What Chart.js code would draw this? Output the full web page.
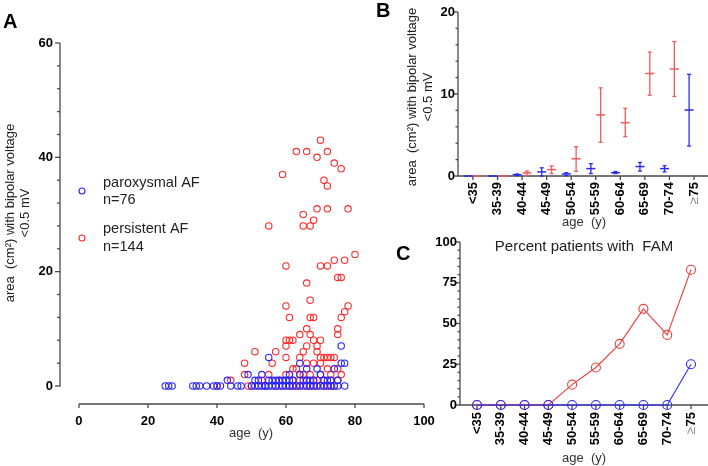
<!DOCTYPE html>
<html><head><meta charset="utf-8">
<script src="https://cdn.jsdelivr.net/npm/chart.js@4/dist/chart.umd.min.js"></script>
<style>
html,body{margin:0;padding:0;background:#fff;}
#wrap{position:relative;width:708px;height:466px;overflow:hidden;}
canvas{position:absolute;left:0;top:0;}
</style></head><body>
<div id="wrap">
<canvas id="cA" width="708" height="466"></canvas>
<canvas id="cB" width="708" height="466"></canvas>
<canvas id="cC" width="708" height="466"></canvas>
</div>
<script>
// ---------- DATA ----------
// Panel A: paroxysmal AF (age, area)
const parAge  = [25,26,27,33,34,35,37,39,40,41,44,46,47,50,51,52,53,54,55,56,57,58,59,60,61,62,63,64,65,66,67,68,69,70,71,72,73,74,75,77,
                 43,49,51,53,55,55,56,57,59,61,61,60,64,66,65,66,67,69,70,71,72,73,74,76,76,77,75,52,58,62,64,68,54];
const parArea = [0,0,0,0,0,0,0,0,0,0,0,0,0,0,0,0,0,0,0,0,0,0,0,0,0,0,0,0,0,0,0,0,0,0,0,0,0,0,0,0,
                 1,2,1,2,5,1,1,1,1,2,1,1,4,3,1,1,1,3,2,1,1,1,3,7,4,4,1,1,1,1,2,1,0];
// Panel A: persistent AF (age, area)
const perAge  = [70,63,66,72,69,74,76,59,71,72,69,72,78,65,68,55,65,67,80,74,77,60,70,72,75,76,66,67,60,78,77,61,67,68,76,66,75,64,67,75,
                 60,61,62,68,70,60,66,69,51,57,65,69,60,64,70,71,72,73,74,48,56,70,63,72,48,55,60,65,67,76,44,69,75,
                 53,58,62,64,66,68,71,73,40,49,50,52,54,57,59,61,62,63,64,66,67,68,69,71,72,73,74,62,66,68,73,75,64,70];
const perArea = [43,41,41,41,40,39,38,37,36,35,31,31,31,30,29,28,28,28,23,22,22,21,21,21,19,19,18,15,14,14,13,12,12,12,12,10,10,9,9,9,
                 8,8,8,8,8,7,7,7,6,6,6,6,5,5,5,5,5,5,5,4,4,4,3,3,2,2,2,2,2,2,1,1,1,
                 1,1,1,1,1,1,1,1,0,0,0,0,0,0,0,0,0,0,0,0,0,0,0,0,0,0,0,3,4,4,2,3,2,2];

// Panels B and C: age groups
const ageGroups = ['<35','35-39','40-44','45-49','50-54','55-59','60-64','65-69','70-74','\u226575'];
// Panel B: mean area and error bar limits
const parMeanB = [0,0,0.15,0.5,0.25,0.9,0.4,1.15,0.9,8.05];
const parLowB  = [0,0,0.05,0,0.05,0.3,0.3,0.6,0.5,3.65];
const parHighB = [0,0,0.25,1.0,0.4,1.5,0.55,1.65,1.25,12.4];
const perMeanB = [0,0,0.37,0.78,2.1,7.45,6.5,12.5,13.05,null];
const perLowB  = [0,0,0.05,0.3,0.57,4.1,4.8,9.85,9.7,null];
const perHighB = [0,0,0.6,1.23,3.57,10.75,8.25,15.1,16.4,null];
// Panel C: percent patients with FAM
const parPctC = [0,0,0,0,0,0,0,0,0,25];
const perPctC = [0,0,0,0,12.5,23,37.5,59,43,83];

// ---------- STYLE ----------
const FONT = '"Liberation Sans", Arial, Helvetica, sans-serif';
const AXC = '#4a4a4a';
const BLUE = '#2626ff', RED = '#ff2a2a';
const BLUE_B = '#2a2af0', RED_B = '#f05a5a';
const BLUE_C = '#2a2aff', RED_C = '#f03c3c';

function txt(ctx, s, x, y, font, color, align, base, rot) {
  ctx.save();
  ctx.font = font; ctx.fillStyle = color || '#000';
  ctx.textAlign = align || 'center'; ctx.textBaseline = base || 'middle';
  ctx.translate(x, y); if (rot) ctx.rotate(rot);
  ctx.fillText(s, 0, 0);
  ctx.restore();
}
function seg(ctx, x1, y1, x2, y2) { ctx.beginPath(); ctx.moveTo(x1, y1); ctx.lineTo(x2, y2); ctx.stroke(); }

function yAxis(chart, o) {
  const {ctx, scales: {x, y}} = chart;
  const ax = x.getPixelForValue(o.at);
  ctx.save(); ctx.strokeStyle = AXC; ctx.lineWidth = 1.3;
  seg(ctx, ax, y.getPixelForValue(o.max), ax, y.getPixelForValue(o.min) + 0.5);
  const n = Math.round((o.max - o.min) / o.minor);
  for (let i = 0; i <= n; i++) {
    const v = o.min + i * o.minor, p = y.getPixelForValue(v);
    const major = Math.abs(v / o.major - Math.round(v / o.major)) < 1e-6;
    seg(ctx, ax - (major ? o.tl : o.tm), p, ax, p);
    if (major) txt(ctx, String(v), ax - o.gap, p, 'bold 13px ' + FONT, '#000', 'right', 'middle');
  }
  ctx.restore();
}

function catXAxis(chart, o) {
  const {ctx, chartArea: ca, scales: {x, y}} = chart;
  const ay = y.getPixelForValue(0);
  ctx.save(); ctx.strokeStyle = AXC; ctx.lineWidth = 1.3;
  seg(ctx, ca.left, ay, ca.right, ay);
  ageGroups.forEach((g, i) => {
    const px = x.getPixelForValue(i);
    seg(ctx, px, ay, px, ay + 4);
    const f = 'bold 13px ' + FONT;
    if (g.startsWith('\u2265')) {
      const rest = g.slice(1);
      ctx.font = f; const w = ctx.measureText(rest).width;
      txt(ctx, rest, px, ay + o.off, f, '#000', 'right', 'middle', -Math.PI / 2);
      txt(ctx, '\u2265', px, ay + o.off + w + 1, '13px ' + FONT, '#8a8a8a', 'right', 'middle', -Math.PI / 2);
    } else {
      txt(ctx, g, px, ay + o.off, f, '#000', 'right', 'middle', -Math.PI / 2);
    }
  });
  ctx.restore();
}

const base = {
  responsive: false, animation: false, devicePixelRatio: 1,
  plugins: {legend: {display: false}, tooltip: {enabled: false}, title: {display: false}},
  events: []
};

// ---------- PANEL A ----------
const axesA = {
  id: 'axesA',
  beforeDatasetsDraw(chart) {
    const {ctx, chartArea: ca, scales: {x, y}} = chart;
    yAxis(chart, {at: -5.5, min: 0, max: 60, major: 20, minor: 4, tl: 5, tm: 3, gap: 7});
    ctx.save(); ctx.strokeStyle = AXC; ctx.lineWidth = 1.3;
    const ay = ca.bottom;
    seg(ctx, x.getPixelForValue(0), ay, x.getPixelForValue(100), ay);
    for (let v = 0; v <= 100; v += 20) {
      const p = x.getPixelForValue(v);
      seg(ctx, p, ay, p, ay + 4);
      txt(ctx, String(v), p, ay + 17, 'bold 13px ' + FONT, '#000', 'center', 'middle');
    }
    ctx.restore();
    txt(ctx, 'age  (y)', 251, 433, '13px ' + FONT, '#333', 'center', 'middle');
    txt(ctx, 'area  (cm\u00b2) with bipolar voltage', 10, 213, '13px ' + FONT, '#222', 'center', 'middle', -Math.PI / 2);
    txt(ctx, '<0.5 mV', 25, 213, '13px ' + FONT, '#222', 'center', 'middle', -Math.PI / 2);
    txt(ctx, 'A', 3, 28, 'bold 20px ' + FONT, '#000', 'left', 'alphabetic');
    // legend
    ctx.save(); ctx.lineWidth = 1.1;
    ctx.strokeStyle = BLUE; ctx.beginPath(); ctx.arc(82, 191, 3, 0, Math.PI * 2); ctx.stroke();
    ctx.strokeStyle = RED; ctx.beginPath(); ctx.arc(82, 238, 3, 0, Math.PI * 2); ctx.stroke();
    ctx.restore();
    const lf = '14.5px ' + FONT;
    txt(ctx, 'paroxysmal AF', 103, 183, lf, '#222', 'left', 'middle');
    txt(ctx, 'n=76', 103, 200, lf, '#222', 'left', 'middle');
    txt(ctx, 'persistent AF', 103, 229, lf, '#222', 'left', 'middle');
    txt(ctx, 'n=144', 103, 247, lf, '#222', 'left', 'middle');
  }
};
new Chart(document.getElementById('cA'), {
  type: 'scatter',
  data: {datasets: [
    {label: 'paroxysmal AF', data: parAge.map((a, i) => ({x: a, y: parArea[i]})),
     borderColor: BLUE, backgroundColor: 'transparent', pointRadius: 3.2, borderWidth: 1.1, clip: false},
    {label: 'persistent AF', data: perAge.map((a, i) => ({x: a, y: perArea[i]})),
     borderColor: RED, backgroundColor: 'transparent', pointRadius: 3.2, borderWidth: 1.1, clip: false}
  ]},
  options: Object.assign({}, base, {
    layout: {padding: {left: 60, right: 284, top: 43, bottom: 62}, autoPadding: false},
    scales: {x: {type: 'linear', min: -5.5, max: 100, display: false},
             y: {type: 'linear', min: -3.15, max: 60, display: false}}
  }),
  plugins: [axesA]
});

// ---------- PANEL B ----------
const axesB = {
  id: 'axesB',
  beforeDatasetsDraw(chart) {
    const {ctx} = chart;
    yAxis(chart, {at: -0.61, min: 0, max: 20, major: 10, minor: 2, tl: 4, tm: 2.5, gap: 3});
    catXAxis(chart, {off: 6});
    txt(ctx, 'age  (y)', 584, 222, '13px ' + FONT, '#333', 'center', 'middle');
    txt(ctx, 'area  (cm\u00b2) with bipolar voltage', 412, 97, '13px ' + FONT, '#222', 'center', 'middle', -Math.PI / 2);
    txt(ctx, '<0.5 mV', 428, 97, '13px ' + FONT, '#222', 'center', 'middle', -Math.PI / 2);
    txt(ctx, 'B', 376, 17, 'bold 20px ' + FONT, '#000', 'left', 'alphabetic');
  },
  afterDatasetsDraw(chart) {
    const {ctx, scales: {x, y}} = chart;
    const bars = [[parMeanB, parLowB, parHighB, -0.2, BLUE_B], [perMeanB, perLowB, perHighB, 0.2, RED_B]];
    ctx.save(); ctx.lineWidth = 1.3;
    bars.forEach(([m, lo, hi, off, col]) => {
      ctx.strokeStyle = col;
      m.forEach((v, i) => {
        if (v === null || hi[i] - lo[i] <= 0) return;
        const px = x.getPixelForValue(i + off);
        const pl = y.getPixelForValue(lo[i]), ph = y.getPixelForValue(hi[i]);
        seg(ctx, px, pl, px, ph);
        seg(ctx, px - 2, pl, px + 2, pl);
        seg(ctx, px - 2, ph, px + 2, ph);
      });
    });
    ctx.restore();
  }
};
new Chart(document.getElementById('cB'), {
  type: 'scatter',
  data: {datasets: [
    {label: 'paroxysmal AF', data: parMeanB.map((v, i) => ({x: i - 0.2, y: v})),
     borderColor: BLUE_B, pointStyle: 'line', pointRadius: 4.5, borderWidth: 1.5, clip: false},
    {label: 'persistent AF', data: perMeanB.map((v, i) => ({x: i + 0.2, y: v})),
     borderColor: RED_B, pointStyle: 'line', pointRadius: 4.5, borderWidth: 1.5, clip: false}
  ]},
  options: Object.assign({}, base, {
    layout: {padding: {left: 458, right: 0, top: 12, bottom: 290}, autoPadding: false},
    scales: {x: {type: 'linear', min: -0.61, max: 9.57, display: false},
             y: {type: 'linear', min: 0, max: 20, display: false}}
  }),
  plugins: [axesB]
});

// ---------- PANEL C ----------
const axesC = {
  id: 'axesC',
  beforeDatasetsDraw(chart) {
    const {ctx} = chart;
    yAxis(chart, {at: -0.715, min: 0, max: 100, major: 25, minor: 5, tl: 4, tm: 2.5, gap: 3});
    catXAxis(chart, {off: 7});
    txt(ctx, 'age  (y)', 584, 458, '13px ' + FONT, '#333', 'center', 'middle');
    txt(ctx, 'Percent patients with  FAM', 584, 247, '15px ' + FONT, '#222', 'center', 'middle');
    txt(ctx, 'C', 396, 260, 'bold 20px ' + FONT, '#000', 'left', 'alphabetic');
  }
};
new Chart(document.getElementById('cC'), {
  type: 'line',
  data: {datasets: [
    {label: 'paroxysmal AF', data: parPctC.map((v, i) => ({x: i, y: v})),
     borderColor: BLUE_C, pointBorderColor: BLUE_C, pointBackgroundColor: 'transparent',
     pointRadius: 4.5, pointBorderWidth: 1.1, borderWidth: 1.1, tension: 0, clip: false},
    {label: 'persistent AF', data: perPctC.map((v, i) => ({x: i, y: v})),
     borderColor: RED_C, pointBorderColor: RED_C, pointBackgroundColor: 'transparent',
     pointRadius: 4.5, pointBorderWidth: 1.1, borderWidth: 1.1, tension: 0, clip: false}
  ]},
  options: Object.assign({}, base, {
    layout: {padding: {left: 460, right: 0, top: 242, bottom: 61}, autoPadding: false},
    scales: {x: {type: 'linear', min: -0.715, max: 9.715, display: false},
             y: {type: 'linear', min: 0, max: 100, display: false}}
  }),
  plugins: [axesC]
});
</script>
</body></html>
